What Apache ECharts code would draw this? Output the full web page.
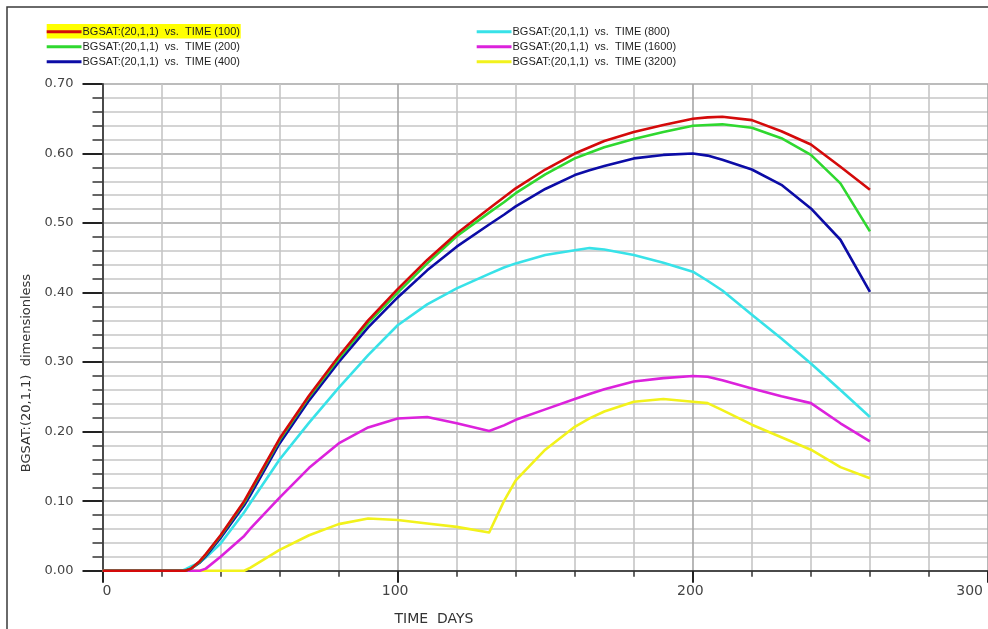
<!DOCTYPE html>
<html>
<head>
<meta charset="utf-8">
<script src="https://cdn.jsdelivr.net/npm/echarts@6/dist/echarts.min.js"></script>
<style>
  html, body { margin: 0; padding: 0; background: #ffffff; }
  #chart { width: 988px; height: 629px; }
</style>
</head>
<body>
<div id="chart"></div>
<script>
// Simulation time (days) shared by all curves
const days = [0, 27, 28, 30, 33, 35, 40, 48, 50, 60, 70, 80, 90, 100, 110, 120, 131, 136, 140,
              150, 160, 165, 170, 180, 190, 200, 205, 210, 220, 230, 240, 250, 260];

// BGSAT at cell (20,1,1) for each case
const bgsat100 = [0, 0, 0, 0.003, 0.014, 0.024, 0.051, 0.100, 0.115, 0.190, 0.252, 0.308, 0.360, 0.405,
                  0.447, 0.485, 0.521, 0.537, 0.550, 0.577, 0.600, 0.609, 0.618, 0.631, 0.641, 0.650,
                  0.652, 0.653, 0.648, 0.632, 0.613, 0.581, 0.548];
const bgsat200 = [0, 0, 0, 0.003, 0.013, 0.023, 0.050, 0.098, 0.113, 0.188, 0.250, 0.305, 0.356, 0.400,
                  0.442, 0.481, 0.515, 0.530, 0.543, 0.570, 0.593, 0.601, 0.609, 0.621, 0.631, 0.640,
                  0.641, 0.642, 0.637, 0.622, 0.598, 0.557, 0.488];
const bgsat400 = [0, 0, 0, 0.003, 0.012, 0.021, 0.047, 0.094, 0.108, 0.183, 0.245, 0.300, 0.350, 0.393,
                  0.432, 0.466, 0.498, 0.512, 0.524, 0.549, 0.569, 0.576, 0.582, 0.593, 0.598, 0.600,
                  0.597, 0.591, 0.577, 0.555, 0.521, 0.476, 0.401];
const bgsat800 = [0, 0, 0.002, 0.006, 0.012, 0.019, 0.039, 0.084, 0.097, 0.160, 0.213, 0.263, 0.310, 0.353,
                  0.383, 0.406, 0.427, 0.436, 0.442, 0.454, 0.461, 0.464, 0.462, 0.454, 0.443, 0.430,
                  0.417, 0.403, 0.368, 0.334, 0.298, 0.260, 0.221];
const bgsat1600 = [0, 0, 0, 0, 0, 0.003, 0.020, 0.050, 0.060, 0.105, 0.148, 0.183, 0.206, 0.219,
                   0.221, 0.212, 0.201, 0.209, 0.217, 0.232, 0.247, 0.254, 0.261, 0.272, 0.277, 0.280,
                   0.279, 0.274, 0.262, 0.251, 0.241, 0.212, 0.186];
const bgsat3200 = [0, 0, 0, 0, 0, 0, 0, 0, 0.004, 0.030, 0.051, 0.067, 0.075, 0.073,
                   0.068, 0.063, 0.055, 0.100, 0.130, 0.174, 0.207, 0.219, 0.229, 0.243, 0.247, 0.243,
                   0.241, 0.231, 0.210, 0.192, 0.174, 0.149, 0.133];

const seriesNames = [
  'BGSAT:(20,1,1)  vs.  TIME (100)',
  'BGSAT:(20,1,1)  vs.  TIME (200)',
  'BGSAT:(20,1,1)  vs.  TIME (400)',
  'BGSAT:(20,1,1)  vs.  TIME (800)',
  'BGSAT:(20,1,1)  vs.  TIME (1600)',
  'BGSAT:(20,1,1)  vs.  TIME (3200)'
];
const seriesValues = [bgsat100, bgsat200, bgsat400, bgsat800, bgsat1600, bgsat3200];
const seriesColors = ['#d40a0a', '#2fd82f', '#0c0ca6', '#38e2e8', '#dc22dc', '#f2f21c'];

const xTitle = 'TIME  DAYS';
const yTitle = 'BGSAT:(20,1,1)  dimensionless';

const chart = echarts.init(document.getElementById('chart'), null, { renderer: 'canvas' });

// Plot area geometry
const plotLeft = 102.5, plotTop = 84, plotWidth = 891, plotBottomY = 570.7;

// Draw the highest-numbered case first so the 100 curve sits on top
const series = [];
for (let i = seriesValues.length - 1; i >= 0; i--) {
  series.push({
    name: seriesNames[i],
    type: 'line',
    data: days.map((d, k) => [d, seriesValues[i][k]]),
    showSymbol: false,
    symbol: 'none',
    smooth: false,
    lineStyle: { color: seriesColors[i], width: 2.6, join: 'round' },
    itemStyle: { color: seriesColors[i] },
    z: 3,
    animation: false
  });
}

// Legend built as graphic elements (two columns of three)
const legendEls = [];
legendEls.push({
  type: 'rect', shape: { x: 46.7, y: 24, width: 194, height: 14.5 },
  style: { fill: '#ffff00' }, z: 1
});
seriesNames.forEach((name, i) => {
  const col = i < 3 ? 0 : 1;
  const row = i % 3;
  const x0 = col === 0 ? 46.7 : 476.7;
  const x1 = col === 0 ? 81.5 : 511.5;
  const y = 31.7 + row * 15;
  legendEls.push({
    type: 'line', shape: { x1: x0, y1: y, x2: x1, y2: y },
    style: { stroke: seriesColors[i], lineWidth: 3 }, z: 2
  });
  legendEls.push({
    type: 'text', x: x1 + 1, y: y,
    style: {
      text: name, fill: '#1e1e1e',
      font: '11px "Liberation Sans", Arial, sans-serif',
      textAlign: 'left', textVerticalAlign: 'middle'
    }, z: 2
  });
});

const option = {
  backgroundColor: '#ffffff',
  animation: false,
  grid: {
    left: plotLeft,
    top: plotTop,
    width: plotWidth,
    height: plotBottomY - plotTop,
    containLabel: false
  },
  xAxis: {
    type: 'value',
    min: 0, max: 300, interval: 100,
    axisLine: { show: true, onZero: false, lineStyle: { color: '#4a4a4a', width: 2 } },
    axisTick: { show: true, length: 12, lineStyle: { color: '#222', width: 2 } },
    minorTick: { show: true, splitNumber: 5, length: 6, lineStyle: { color: '#333', width: 1.5 } },
    splitLine: { show: true, lineStyle: { color: '#a6a6a6', width: 1.6 } },
    minorSplitLine: { show: true, lineStyle: { color: '#c6c6c6', width: 1.6 } },
    axisLabel: {
      color: '#444', fontSize: 14, fontFamily: '"DejaVu Sans", sans-serif',
      margin: 14, alignMinLabel: 'left', alignMaxLabel: 'right', padding: [0, 5, 0, 0],
      formatter: v => String(v)
    }
  },
  yAxis: {
    type: 'value',
    min: 0, max: 0.7, interval: 0.1,
    axisLine: { show: true, onZero: false, lineStyle: { color: '#4a4a4a', width: 2 } },
    axisTick: { show: true, length: 20, lineStyle: { color: '#222', width: 2 } },
    minorTick: { show: true, splitNumber: 5, length: 10, lineStyle: { color: '#333', width: 1.5 } },
    splitLine: { show: true, lineStyle: { color: '#a6a6a6', width: 1.6 } },
    minorSplitLine: { show: true, lineStyle: { color: '#c6c6c6', width: 1.6 } },
    axisLabel: {
      color: '#444', fontSize: 13, fontFamily: '"DejaVu Sans", sans-serif',
      margin: 29,
      formatter: v => v.toFixed(2)
    }
  },
  graphic: [
    {
      type: 'rect', shape: { x: 7, y: 7, width: 1100, height: 800 },
      style: { fill: 'none', stroke: '#3a3a3a', lineWidth: 1.5 }, z: 0, silent: true
    },
    ...legendEls,
    {
      type: 'text', x: 434, y: 619,
      style: {
        text: xTitle, fill: '#333',
        font: '14px "DejaVu Sans", sans-serif',
        textAlign: 'center', textVerticalAlign: 'middle'
      }
    },
    {
      type: 'text', x: 27, y: 373, rotation: Math.PI / 2,
      style: {
        text: yTitle, fill: '#333',
        font: '13px "DejaVu Sans", sans-serif',
        textAlign: 'center', textVerticalAlign: 'middle'
      }
    }
  ],
  series: series
};

chart.setOption(option);
</script>
</body>
</html>
